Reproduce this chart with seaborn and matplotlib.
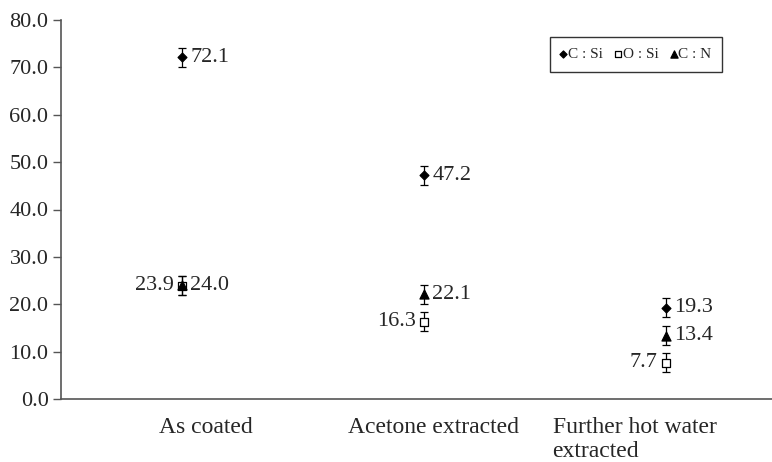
import matplotlib
matplotlib.use("Agg")
import matplotlib.pyplot as plt
import seaborn as sns
import pandas as pd

categories = ["As coated", "Acetone extracted", "Further hot water\nextracted"]
c_si = [72.1, 47.2, 19.3]
o_si = [23.9, 16.3, 7.7]
c_n = [24.0, 22.1, 13.4]
err = [2.0, 2.0, 2.0]
series_names = ["C : Si", "O : Si", "C : N"]

sns.set_style("white")
plt.rcParams["font.family"] = ["Liberation Serif", "DejaVu Serif"]

rows = []
for name, vals in zip(series_names, [c_si, o_si, c_n]):
    for i, v in enumerate(vals):
        rows.append({"pos": i, "value": v, "ratio": name, "err": err[i]})
df = pd.DataFrame(rows)

fig = plt.figure(figsize=(7.72, 4.62), dpi=100)
ax = fig.add_axes([61 / 772, 63 / 462, 1 - 61 / 772, (399 - 20) / 462])

markers = {"C : Si": "D", "O : Si": "s", "C : N": "^"}
faces = {"C : Si": "black", "O : Si": "white", "C : N": "black"}
sizes = {"C : Si": 4.5, "O : Si": 5.5, "C : N": 6.5}

for name in series_names:
    sub = df[df["ratio"] == name]
    ax.errorbar(sub["pos"], sub["value"], yerr=sub["err"], fmt="none",
                ecolor="black", elinewidth=0.9, capsize=3, capthick=0.9, zorder=2)

for name in series_names:
    sub = df[df["ratio"] == name]
    sns.scatterplot(data=sub, x="pos", y="value", marker=markers[name],
                    color=faces[name], edgecolor="black", linewidth=0.9,
                    s=sizes[name] ** 2, ax=ax, zorder=3, label=name)

# value labels: O : Si on the left, others on the right
for name in series_names:
    sub = df[df["ratio"] == name]
    for _, r in sub.iterrows():
        if name == "O : Si":
            ax.annotate(f"{r['value']:.1f}", (r["pos"], r["value"]),
                        xytext=(-6, 0), textcoords="offset points",
                        ha="right", va="center", fontsize=16)
        else:
            ax.annotate(f"{r['value']:.1f}", (r["pos"], r["value"]),
                        xytext=(6, 0), textcoords="offset points",
                        ha="left", va="center", fontsize=16)

ax.set_xlim(-0.5, (772 - 182) / 242)
ax.set_ylim(0, 80)
ax.set_yticks(range(0, 81, 10))
ax.set_yticklabels([f"{v:.1f}" for v in range(0, 81, 10)], fontsize=16)

# category captions sit slightly off the marker columns
label_x = [0.10, 1.04, 1.87]
ax.set_xticks(label_x)
ax.set_xticklabels(categories, fontsize=17, multialignment="left",
                   linespacing=1.2)
ax.tick_params(axis="x", length=0, pad=13)
ax.tick_params(axis="y", direction="out", length=6, width=1, color="#555555",
               left=True, pad=3)
ax.set_xlabel("")
ax.set_ylabel("")

for side in ["top", "right"]:
    ax.spines[side].set_visible(False)
for side in ["left", "bottom"]:
    ax.spines[side].set_color("#555555")
    ax.spines[side].set_linewidth(1.2)

leg = ax.legend(loc="upper right", bbox_to_anchor=(0.93, 0.955), ncol=3,
                fontsize=11, frameon=True, fancybox=False, edgecolor="black",
                handletextpad=0.15, columnspacing=0.85, handlelength=0.3,
                borderpad=0.7, borderaxespad=0, markerscale=0.8)
leg.get_frame().set_linewidth(1.0)

fig.savefig("out.png", dpi=100)
